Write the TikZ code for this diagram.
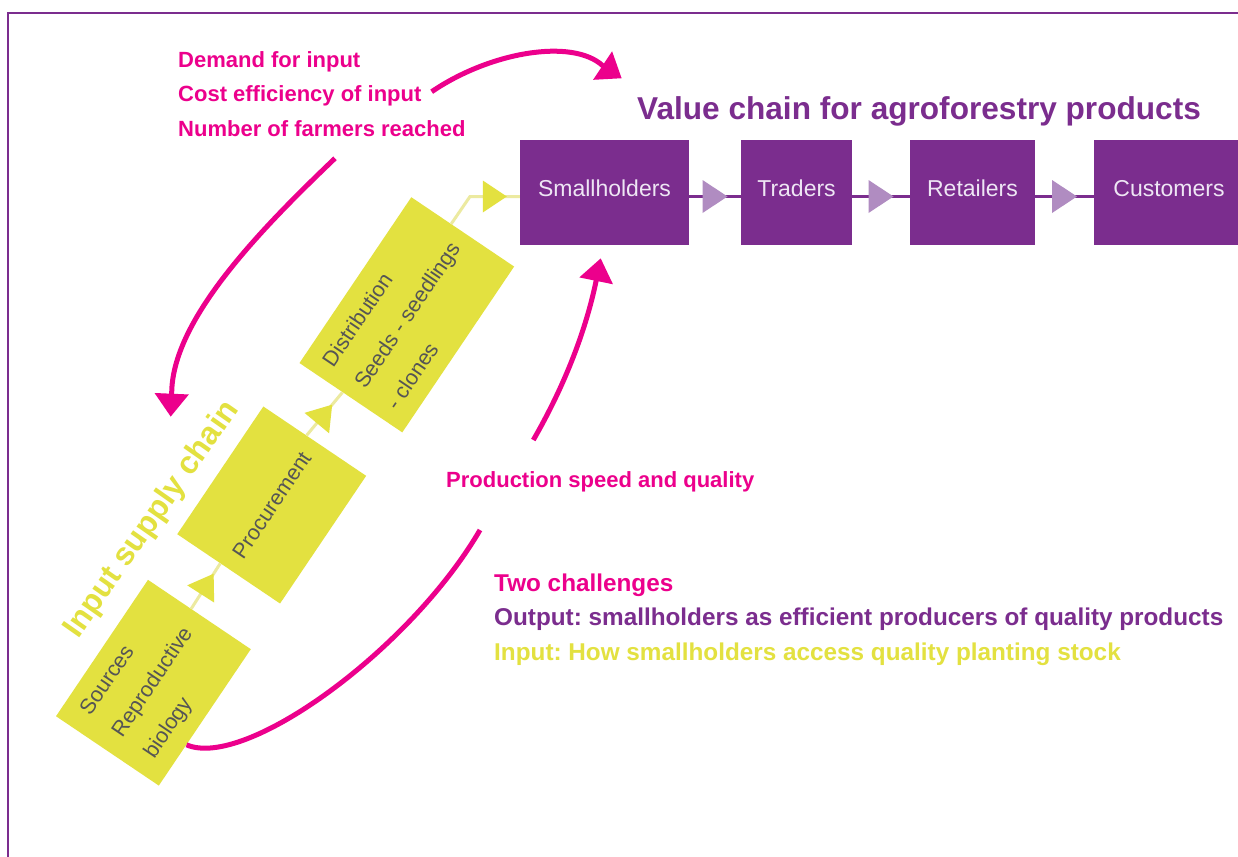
\documentclass[tikz,border=0pt]{standalone}
\usepackage{fontspec}
\setmainfont{Liberation Sans}
\frenchspacing
\usetikzlibrary{arrows.meta,calc,decorations.markings}
\definecolor{vpurple}{RGB}{123,45,142}
\definecolor{lpurple}{RGB}{176,140,193}
\definecolor{magentac}{RGB}{236,0,140}
\definecolor{yboxc}{RGB}{227,225,64}
\definecolor{ylinec}{RGB}{236,234,160}
\definecolor{ytextc}{RGB}{85,85,85}
\definecolor{wtextc}{RGB}{238,230,244}
\begin{document}
\begin{tikzpicture}[x=1pt,y=-1pt,
  pbox/.style={fill=vpurple, minimum height=105pt, text=wtextc, font=\fontsize{23}{27}\selectfont, inner sep=0pt, text height=16.5pt, text depth=8pt},
  ybox/.style={fill=yboxc, rotate=56, text=ytextc, font=\fontsize{21.5}{38.5}\selectfont, align=left, minimum height=124pt, inner sep=0pt},
  pinktxt/.style={text=magentac, font=\fontsize{22}{26}\selectfont\bfseries, inner sep=0pt, anchor=base west},
  chtxt/.style={font=\fontsize{24.3}{28}\selectfont\bfseries, inner sep=0pt, anchor=base west},
  pline/.style={draw=vpurple, line width=2.5pt},
  yline/.style={draw=ylinec, line width=3pt},
  ptri/.style={postaction={decorate,decoration={markings,mark=at position #1 with {\fill[lpurple] (-12.5,-16.5) -- (12.5,0) -- (-12.5,16.5) -- cycle;}}}},
  ytri/.style={postaction={decorate,decoration={markings,mark=at position #1 with {\fill[yboxc] (-12,-16) -- (12,0) -- (-12,16) -- cycle;}}}},
  parrow/.style={draw=magentac, line width=5pt, -{Triangle[length=23pt,width=33pt]}},
  pcurve/.style={draw=magentac, line width=5pt}
]
\useasboundingbox (0,0) rectangle (1238,856);
\clip (0,0) rectangle (1238,856);
\fill[white] (0,0) rectangle (1238,856);
% frame
\draw[vpurple, line width=2.5pt] (8,870) -- (8,13) -- (1250,13);

% value chain
\node[anchor=base west, inner sep=0pt, text=vpurple, font=\fontsize{31.6}{36}\selectfont\bfseries] (title) at (637,119) {Value chain for agroforestry products};
\node[pbox, minimum width=169pt] (sm) at (604.5,192.5) {Smallholders};
\node[pbox, minimum width=111pt] (tr) at (796.5,192.5) {Traders};
\node[pbox, minimum width=125pt] (re) at (972.5,192.5) {Retailers};
\node[pbox, minimum width=150pt] (cu) at (1169,192.5) {Customers};
\draw[pline, ptri=0.5] ($(sm.east)+(0,4)$) -- ($(tr.west)+(0,4)$);
\draw[pline, ptri=0.5] ($(tr.east)+(0,4)$) -- ($(re.west)+(0,4)$);
\draw[pline, ptri=0.5] ($(re.east)+(0,4)$) -- ($(cu.west)+(0,4)$);

% input supply chain
\node[ybox, minimum width=164.5pt] (src) at (153.4,682.7) {Sources\\Reproductive\\biology};
\node[ybox, minimum width=154pt] (proc) at (271.7,505) {Procurement};
\node[ybox, minimum width=200pt] (dist) at (406.8,314.8) {Distribution\\Seeds - seedlings\\- clones};
\draw[yline, ytri=0.55] ($(src.east)!10pt!(src.north east)$) -- ($(proc.west)!10pt!(proc.north west)$);
\draw[yline, ytri=0.5] ($(proc.east)!10pt!(proc.north east)$) -- ($(dist.west)!10pt!(dist.north west)$);
\draw[yline, ytri=-25pt] ($(dist.east)!14pt!(dist.north east)$) -- (470,196.5) -- ($(sm.west)+(0,4)$);
\node[rotate=55, text=yboxc, font=\fontsize{31.8}{36}\selectfont\bfseries, inner sep=0pt] (isc) at (152,520) {Input supply chain};

% pink texts
\node[pinktxt] (demand) at (178,68) {Demand for input};
\node[pinktxt] (cost) at (178,102) {Cost efficiency of input};
\node[pinktxt] (farmers) at (178,136) {Number of farmers reached};
\node[pinktxt] (prod) at (446,487) {Production speed and quality};
\node[chtxt, text=magentac] (two) at (494,591) {Two challenges};
\node[chtxt, text=vpurple] (out) at (494,625) {Output: smallholders as efficient producers of quality products};
\node[chtxt, text=yboxc] (inp) at (494,660) {Input: How smallholders access quality planting stock};

% pink arrows
\coordinate (topS) at (431.7,91.7);
\coordinate (topT) at (621.7,78.3);
\coordinate (leftS) at (335,158.3);
\coordinate (leftT) at (170.7,416.7);
\coordinate (upS) at (533.3,440);
\coordinate (upT) at (600.7,258.3);
\coordinate (botT) at (480,530);
\draw[parrow] (topS) .. controls (490,52) and (572,38) .. (602.5,65.5) -- (topT);
\draw[parrow] (leftS) .. controls (260,230) and (172,320) .. (171.7,393.3) -- (leftT);
\draw[parrow] (upS) .. controls (565,385) and (586,330) .. (596.3,280) -- (upT);
\draw[pcurve] ($(src.south)!0.4!(src.south west)$) .. controls (245,770) and (410,650) .. (botT);
\end{tikzpicture}
\end{document}
